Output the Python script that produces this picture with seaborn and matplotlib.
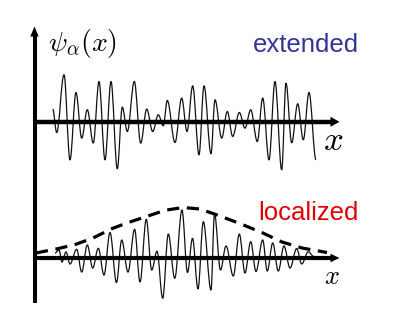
import matplotlib
matplotlib.use("Agg")
import matplotlib.pyplot as plt
from matplotlib.path import Path
from matplotlib.patches import PathPatch
import seaborn as sns
import pandas as pd

# ---------------- data ----------------
# extended state: positions of successive turning points and their amplitudes
ext_x = [52.7, 56.7, 64, 70, 76, 81.7, 87.3, 93.3, 99, 105, 111, 117.3, 122.3, 127.3,
         134.3, 140.7, 146.7, 152.7, 158.3, 163.3, 167.3, 175, 181.7, 187, 192.7, 199,
         204, 211, 215, 221.7, 227.3, 232.7, 239.3, 245, 250.7, 257.3, 262.7, 269, 275,
         281.7, 286, 291.7, 297.7, 303.3, 309, 316]
ext_a = [12.7, -10.7, 47, -38, 29.3, -16.3, 12, -21.3, 40.3, -38, 40.3, -47, 14.7, -9.7,
         40.3, -21.3, 12.7, -9.7, 7, -4, 21.3, -20.7, 23.7, -9.7, 36, -33,
         36, -32, 22, -16.3, 10.3, -14.7, 9.3, -6.3, 12, -19.7, 23.7, -38, 40.3,
         -48, 38.7, -21, 18, -18, 29.3, -38]

# localized state: turning points and amplitudes
loc_x = [55, 59, 62, 66, 70, 76.7, 81.7, 87.3, 92.7, 98.3, 104, 110, 116.5, 121.7,
         128, 134.6, 140, 146.3, 151.7, 157, 162.7, 168.3, 174.7, 182, 187.5, 192.5,
         198, 203.3, 211, 214.5, 220.5, 226, 233.3, 239.3, 245, 250.7, 256, 262.7,
         267.3, 272.7, 278.3, 284, 290, 296.7, 301.7, 308.3, 313.3]
loc_a = [5, 8, -4, 6, -6, 8.7, -14, 13, -10, 9.7, -17, 25.5, -24.5, 18,
         -14, 28.7, -24, 38.7, -12, 6.7, -40.3, 24, -20.3, 48, -14.5, 19.7,
         -31, 36.3, -32, 44, -12, 12, -18, 24, -15, 16.3, -13.5, 18,
         -13, 15, -13, 12, -10, 9.5, -6, 6.3, 2]

# envelope of the localized state (dashed)
env_x = [36, 58, 75, 93, 112, 128, 145, 165, 183, 200, 218, 240, 262, 282, 302, 327]
env_a = [5, 9.4, 13.4, 20, 29.4, 35.4, 41, 47.7, 50.5, 49, 42.7, 34.4, 25.4, 16, 10, 5.5]

labels = {"psi": r"$\psi_\alpha(x)$", "ext": "extended", "loc": "localized", "x": r"$x$"}

# ---------------- style ----------------
sns.set_style("white")
plt.rcParams["font.family"] = ["Liberation Sans", "DejaVu Sans"]
plt.rcParams["mathtext.fontset"] = "cm"

W, H = 403, 326
fig = plt.figure(figsize=(W / 100, H / 100), dpi=100)
ax = fig.add_axes([0, 0, 1, 1])
ax.set_xlim(0, W)
ax.set_ylim(0, H)
ax.axis("off")

Y_UP = H - 121.8   # baseline of extended state
Y_LO = H - 258.0   # baseline of localized state
X_AX = 34.5        # vertical axis


def wave(xs, amps, base):
    verts, codes = [(xs[0], base + amps[0])], [Path.MOVETO]
    c = 0.363
    for i in range(1, len(xs)):
        x0, y0 = xs[i - 1], base + amps[i - 1]
        x1, y1 = xs[i], base + amps[i]
        dx = x1 - x0
        verts += [(x0 + c * dx, y0), (x1 - c * dx, y1), (x1, y1)]
        codes += [Path.CURVE4] * 3
    ax.add_patch(PathPatch(Path(verts, codes), fill=False, lw=0.9,
                           edgecolor="#111111", zorder=3))


wave(ext_x, ext_a, Y_UP)
wave(loc_x, loc_a, Y_LO)

# envelope
env = pd.DataFrame({"x": env_x, "y": [Y_LO + a for a in env_a]})
sns.lineplot(data=env, x="x", y="y", ax=ax, color="black", lw=2.3,
             dashes=False, sort=False, zorder=4)
ax.lines[-1].set_dashes((3.8, 2.4))
ax.lines[-1].set_solid_capstyle("butt")


def harrow(y, tip, hl, hw, lw):
    ax.plot([X_AX - 1.5, tip - hl + 1], [y, y], color="black", lw=lw,
            solid_capstyle="butt", zorder=5)
    ax.fill([tip, tip - hl, tip - hl], [y, y + hw / 2, y - hw / 2],
            color="black", lw=0, zorder=5)


# vertical axis
ax.plot([X_AX, X_AX], [H - 303, H - 35], color="black", lw=2.9,
        solid_capstyle="butt", zorder=5)
ax.fill([X_AX, X_AX - 4.2, X_AX + 4.2], [H - 26.5, H - 36.5, H - 36.5],
        color="black", lw=0, zorder=5)

harrow(Y_UP, 339.5, 9, 10, 3.2)
harrow(Y_LO, 339.5, 9, 8.5, 3.0)

# texts
ax.text(48, H - 43, labels["psi"], fontsize=20, ha="left", va="center",
        color="black")
ax.text(253, H - 51.7, labels["ext"], fontsize=18.5, ha="left",
        va="baseline", color="#333399")
ax.text(258, H - 220, labels["loc"], fontsize=18.5, ha="left",
        va="baseline", color="#e00000")
ax.text(333, H - 140, labels["x"], fontsize=25, ha="center", va="center",
        color="black")
ax.text(331.5, H - 277, labels["x"], fontsize=19, ha="center", va="center",
        color="black")

fig.savefig("out.png", dpi=100)
